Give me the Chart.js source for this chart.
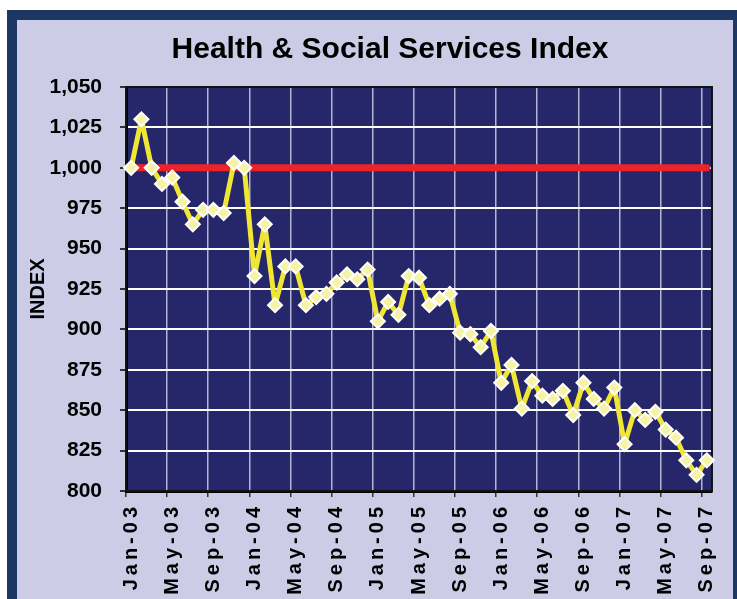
<!DOCTYPE html>
<html>
<head>
<meta charset="utf-8">
<script src="https://cdn.jsdelivr.net/npm/chart.js@4.4.1/dist/chart.umd.min.js"></script>
<style>
  body { margin: 0; background: #fff; }
  #frame {
    position: absolute; left: 7px; top: 10px; width: 736px; height: 620px;
    box-sizing: border-box; background: #cccce6; border: 10px solid #1d3764;
  }
  #grafico { position: absolute; left: 0; top: 0; }
</style>
</head>
<body>
<div id="frame"></div>
<canvas id="grafico" width="737" height="599"></canvas>
<script>
// ── Dados ─────────────────────────────────
const months = [
  'Jan-03','Feb-03','Mar-03','Apr-03','May-03','Jun-03','Jul-03','Aug-03','Sep-03','Oct-03','Nov-03','Dec-03',
  'Jan-04','Feb-04','Mar-04','Apr-04','May-04','Jun-04','Jul-04','Aug-04','Sep-04','Oct-04','Nov-04','Dec-04',
  'Jan-05','Feb-05','Mar-05','Apr-05','May-05','Jun-05','Jul-05','Aug-05','Sep-05','Oct-05','Nov-05','Dec-05',
  'Jan-06','Feb-06','Mar-06','Apr-06','May-06','Jun-06','Jul-06','Aug-06','Sep-06','Oct-06','Nov-06','Dec-06',
  'Jan-07','Feb-07','Mar-07','Apr-07','May-07','Jun-07','Jul-07','Aug-07','Sep-07'
];
const indexValues = [
  1000, 1030, 1000, 990, 994, 979, 965, 974, 974, 972, 1003, 1000,
  933, 965, 915, 939, 939, 915, 920, 922, 929, 934, 931, 937,
  905, 917, 909, 933, 932, 915, 919, 922, 898, 897, 889, 899,
  867, 878, 851, 868, 859, 857, 862, 847, 867, 857, 851, 864,
  829, 850, 844, 849, 838, 833, 819, 810, 819
];
const baseLevel = 1000;
const yMin = 800, yMax = 1050, yStep = 25;
const labelEvery = 4;

const FONT = "'Liberation Sans', Arial, sans-serif";

// ── Plugins ───────────────────────────────
const plotArea = {
  id: 'plotArea',
  beforeDraw(chart) {
    const { ctx, chartArea: a } = chart;
    ctx.save();
    ctx.fillStyle = '#26266b';
    ctx.fillRect(a.left, a.top, a.right - a.left, a.bottom - a.top);
    ctx.restore();
  },
  beforeDatasetsDraw(chart) {
    const { ctx, chartArea: a } = chart;
    ctx.save();
    ctx.strokeStyle = '#111';
    ctx.lineWidth = 2;
    ctx.strokeRect(a.left, a.top, a.right - a.left, a.bottom - a.top);
    ctx.restore();
  }
};

// rótulos do eixo X com espaçamento entre letras; eixo Y sem recorte dos rótulos
const tickTweaks = {
  id: 'tickTweaks',
  beforeDraw(chart) {
    const sx = chart.scales.x, sy = chart.scales.y;
    if (!sx._spaced) {
      const orig = sx.drawLabels;
      sx.drawLabels = function (area) {
        this.ctx.save();
        this.ctx.letterSpacing = '4px';
        orig.call(this, area);
        this.ctx.restore();
      };
      sx._spaced = true;
    }
    sy._computeLabelArea = () => undefined;
  }
};

// ── Gráfico ───────────────────────────────
new Chart(document.getElementById('grafico').getContext('2d'), {
  type: 'line',
  data: {
    labels: months,
    datasets: [
      {
        label: 'Index',
        data: indexValues,
        borderColor: '#f0e636',
        borderWidth: 5,
        borderJoinStyle: 'round',
        tension: 0,
        pointStyle: 'rectRot',
        pointRadius: 7,
        pointBackgroundColor: '#f6f2a6',
        pointBorderColor: '#ffffff',
        pointBorderWidth: 2,
        order: 1
      },
      {
        label: 'Base',
        data: months.map(() => baseLevel),
        borderColor: '#ee2229',
        borderWidth: 7,
        borderCapStyle: 'round',
        pointRadius: 0,
        order: 2
      }
    ]
  },
  options: {
    responsive: false,
    animation: false,
    layout: { padding: { left: 62, right: 19, top: 0, bottom: 0 } },
    plugins: {
      legend: { display: false },
      tooltip: { enabled: false },
      title: {
        display: true,
        text: 'Health & Social Services Index',
        color: '#000',
        font: { family: FONT, size: 30, weight: 'bold' },
        padding: { top: 32, bottom: 19 }
      }
    },
    scales: {
      x: {
        offset: true,
        grid: {
          offset: true,
          color: c => c.index % labelEvery === 0 ? '#b4b4d2' : 'transparent',
          tickColor: c => c.index % labelEvery === 0 ? '#333' : 'transparent',
          lineWidth: 1.5,
          tickLength: 6
        },
        border: { color: '#000', width: 3 },
        ticks: {
          autoSkip: false,
          minRotation: 90,
          maxRotation: 90,
          padding: 6,
          color: '#000',
          font: { family: FONT, size: 20, weight: 'bold' },
          callback: (v, i) => i % labelEvery === 0 ? months[i] : ''
        },
        afterFit: s => { s.height = 108; }
      },
      y: {
        min: yMin,
        max: yMax,
        grid: { color: '#ffffff', lineWidth: 2, tickLength: 6, tickColor: '#333' },
        border: { color: '#000', width: 3 },
        ticks: {
          stepSize: yStep,
          padding: 18,
          color: '#000',
          font: { family: FONT, size: 21, weight: 'bold' },
          callback: v => v.toLocaleString('en-US')
        },
        title: {
          display: true,
          text: 'INDEX',
          color: '#000',
          font: { family: FONT, size: 20, weight: 'bold' },
          padding: { top: -36, bottom: 0 }
        },
        afterFit: s => { s.width = 64; }
      }
    }
  },
  plugins: [plotArea, tickTweaks]
});
</script>
</body>
</html>
